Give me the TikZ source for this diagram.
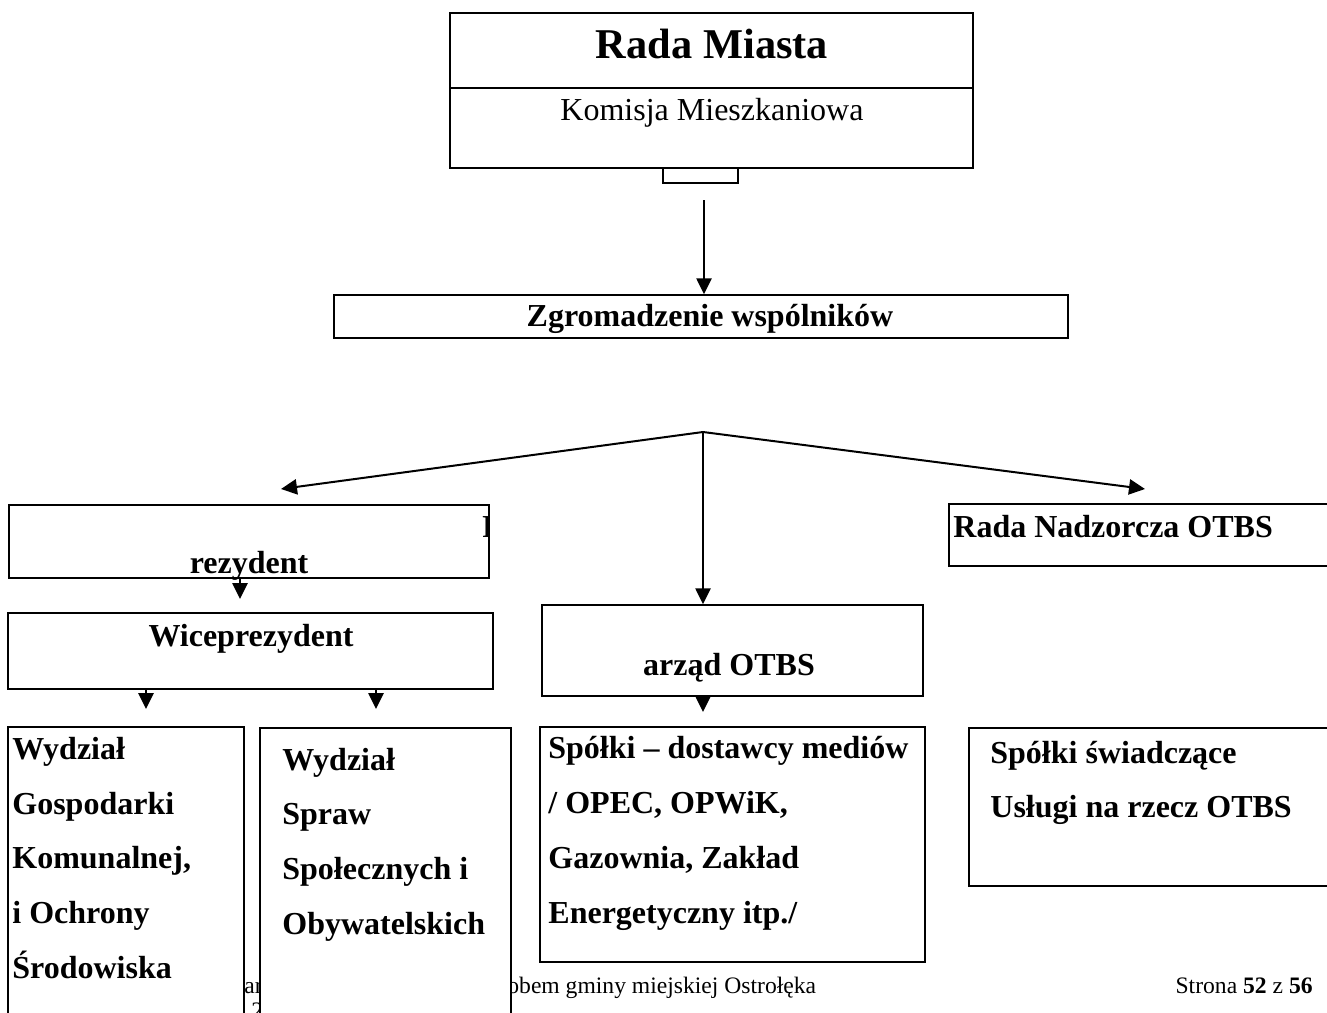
\documentclass[tikz,border=0pt]{standalone}
\usepackage{fontspec}
\setmainfont{Liberation Serif}
\usetikzlibrary{arrows.meta,fit}
\begin{document}
\begin{tikzpicture}[x=0.5pt,y=-0.5pt,
  box/.style={draw=black,line width=0.75pt,fill=white,inner sep=0pt},
  arr/.style={line width=1pt,-{Triangle[length=8pt,width=7.6pt]}},
  bt/.style={inner sep=0pt,anchor=base west,font=\bfseries\fontsize{16}{19}\selectfont},
  bc/.style={inner sep=0pt,anchor=base,font=\bfseries\fontsize{16}{19}\selectfont},
  ft/.style={inner sep=0pt,anchor=base west,font=\fontsize{11.8}{14}\selectfont}]
\path[use as bounding box] (0,0) rectangle (1327,1012);
\clip (0,0) rectangle (1327,1012);

% footer (partly covered by boxes)
\node[ft] (f1) at (244,993) {ar};
\node[ft] (f2) at (251,1018) {2};
\node[ft] (f3) at (507,993) {obem gminy miejskiej Ostrołęka};
\node[ft,anchor=base east] (f4) at (1313,993) {Strona \textbf{52} z \textbf{56}};

% Rada Miasta
\node[box,fit={(663,160) (738,183)}] (sm) {};
\node[box,fit={(450,13) (973,168)}] (rm) {};
\draw[line width=0.75pt] (rm.west |- 0,88) -- (rm.east |- 0,88);
\node[inner sep=0pt,anchor=base,font=\bfseries\fontsize{21.2}{25}\selectfont] (rmt) at (712,58) {Rada Miasta};
\node[inner sep=0pt,anchor=base,font=\fontsize{16}{19}\selectfont] (kmt) at (712,120) {Komisja Mieszkaniowa};

% Zgromadzenie
\node[box,fit={(334,295) (1068,338)}] (zg) {};
\node[bc] (zgt) at (710,326) {Zgromadzenie wspólników};
\coordinate (a1) at (704,200);
\draw[arr] (a1) -- (a1 |- zg.north);

% fan
\coordinate (apex) at (703,432);
\coordinate (lt) at (281,489);
\coordinate (rt) at (1145,489);
\draw[arr] (apex) -- (lt);
\draw[arr] (apex) -- (rt);

% Prezydent
\node[box,fit={(9,505) (489,578)}] (pr) {};
\begin{scope}
\clip (pr.south west) rectangle (pr.north east);
\node[bt] (prp) at (482,537) {P};
\end{scope}
\node[bc] (prt) at (249,573) {rezydent};
\coordinate (pa) at (240,578);
\coordinate (pb) at (240,599);
\draw[arr] (pa) -- (pb);

% Wiceprezydent
\node[box,fit={(8,613) (493,689)}] (wi) {};
\node[bc] (wit) at (251,646) {Wiceprezydent};
\coordinate (wa) at (146,689);
\coordinate (wb) at (146,709);
\coordinate (wc) at (376,689);
\coordinate (wd) at (376,709);
\draw[arr] (wa) -- (wb);
\draw[arr] (wc) -- (wd);

% Zarzad
\node[box,fit={(542,605) (923,696)}] (za) {};
\node[bc] (zat) at (729,675) {arząd OTBS};
\draw[arr] (apex) -- (apex |- za.north);
\coordinate (za1) at (703,696);
\coordinate (za2) at (703,712);
\draw[arr] (za1) -- (za2);

% Rada Nadzorcza
\node[box,fit={(949,504) (1340,566)}] (rn) {};
\node[bt] (rnt) at (953,537) {Rada Nadzorcza OTBS};

% Wydzial 1
\node[box,fit={(8,727) (244,1030)}] (w1) {};
\node[bt] (w1a) at (12,759) {Wydział};
\node[bt] (w1b) at (12,814) {Gospodarki};
\node[bt] (w1c) at (12,868) {Komunalnej,};
\node[bt] (w1d) at (12,923) {i Ochrony};
\node[bt] (w1e) at (12,978) {Środowiska};

% Wydzial 2
\node[box,fit={(260,728) (511,1030)}] (w2) {};
\node[bt] (w2a) at (282,770) {Wydział};
\node[bt] (w2b) at (282,824) {Spraw};
\node[bt] (w2c) at (282,879) {Społecznych i};
\node[bt] (w2d) at (282,934) {Obywatelskich};

% Spolki media
\node[box,fit={(540,727) (925,962)}] (sp) {};
\node[bt] (spa) at (548,758) {Spółki – dostawcy mediów};
\node[bt] (spb) at (548,813) {/ OPEC, OPWiK,};
\node[bt] (spc) at (548,868) {Gazownia, Zakład};
\node[bt] (spd) at (548,923) {Energetyczny itp./};

% Spolki swiadczace
\node[box,fit={(969,728) (1340,886)}] (ss) {};
\node[bt] (ssa) at (990,763) {Spółki świadczące};
\node[bt] (ssb) at (990,817) {Usługi na rzecz OTBS};
\end{tikzpicture}
\end{document}
